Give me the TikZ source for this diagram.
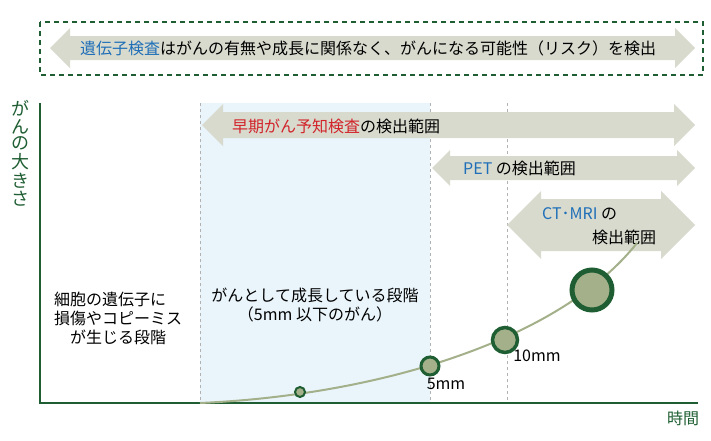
\documentclass[tikz,border=0pt]{standalone}
\usepackage{fontspec}
\setmainfont{Noto Sans CJK JP}
\definecolor{midori}{HTML}{1E5E32}
\definecolor{haiiro}{HTML}{D8DACE}
\definecolor{aoi}{HTML}{1F6FB8}
\definecolor{akai}{HTML}{D2232A}
\definecolor{mizu}{HTML}{EAF5FB}
\definecolor{kusa}{HTML}{A3B08A}
% double arrow: left x, right x, centre y, half shaft, half head
\newcommand\futayaji[5]{%
  \fill[haiiro] (#1,#3) -- (#1+#5,#3-#5) -- (#1+#5,#3-#4) -- (#2-#5,#3-#4)
    -- (#2-#5,#3-#5) -- (#2,#3) -- (#2-#5,#3+#5) -- (#2-#5,#3+#4)
    -- (#1+#5,#3+#4) -- (#1+#5,#3+#5) -- cycle;}
\begin{document}
\begin{tikzpicture}[x=1pt,y=-1pt,
moji/.style={font=\fontsize{16}{19}\selectfont,inner sep=0pt},
tama/.style={circle,draw=midori,fill=kusa,inner sep=0pt}]
\useasboundingbox (0,0) rectangle (711,440);

% top box
\draw[midori,line width=2pt,dash pattern=on 5pt off 4pt] (40,22) rectangle (703,75);
\futayaji{50}{695}{48}{12}{20}
\node[moji,anchor=west] (zentai-t) at (80,48) {\textcolor{aoi}{遺伝子検査}はがんの有無や成長に関係なく、がんになる可能性（リスク）を検出};

% background and guides
\fill[mizu] (200,103) rectangle (430,403);
\foreach \xx in {200,430,507}
  \draw[gray!60,dashed] (\xx,103) -- (\xx,403);

% ranges
\futayaji{202}{695}{125}{13}{21}
\node[moji,anchor=west] (souki-t) at (232,126) {\textcolor{akai}{早期がん予知検査}の検出範囲};
\futayaji{432}{695}{168}{12}{18}
\node[moji,anchor=west] (pet-t) at (463,168) {\textcolor{aoi}{PET} の検出範囲};
\futayaji{507}{695}{225}{26}{34}
\node[moji,anchor=west] (ct-t1) at (542,214) {\textcolor{aoi}{CT･MRI} の};
\node[moji,anchor=west] (ct-t2) at (592,237) {検出範囲};

% axes
\coordinate (genten) at (40,403);
\draw[midori,line width=2.2pt] (40,103) -- (genten) -- (698,403);
\node[moji,text=midori,anchor=north,font=\fontsize{18}{21}\selectfont] (ookisa) at (20,100) {\shortstack{が\\ん\\の\\大\\き\\さ}};
\node[moji,text=midori] (jikan) at (683,418) {時間};

% growth curve
\draw[kusa,line width=2pt] (200,403) .. controls (380,395) and (560,340) .. (637,243);
\node[tama,line width=2pt,minimum size=10] (c1) at (300,392) {};
\node[tama,line width=3pt,minimum size=18] (c2) at (430,366) {};
\node[tama,line width=3.5pt,minimum size=25] (c3) at (505,340) {};
\node[tama,line width=5pt,minimum size=40] (c4) at (592,290) {};
\node[moji] (l5) at (446,384) {5mm};
\node[moji] (l10) at (537,356) {10mm};

% stages
\node[moji,align=left] (dankai1) at (118,318) {細胞の遺伝子に\\損傷やコピーミス\\\hspace{1em}が生じる段階};
\node[moji,align=center] (dankai2) at (315,305) {がんとして成長している段階\\（5mm 以下のがん）};
\end{tikzpicture}
\end{document}
